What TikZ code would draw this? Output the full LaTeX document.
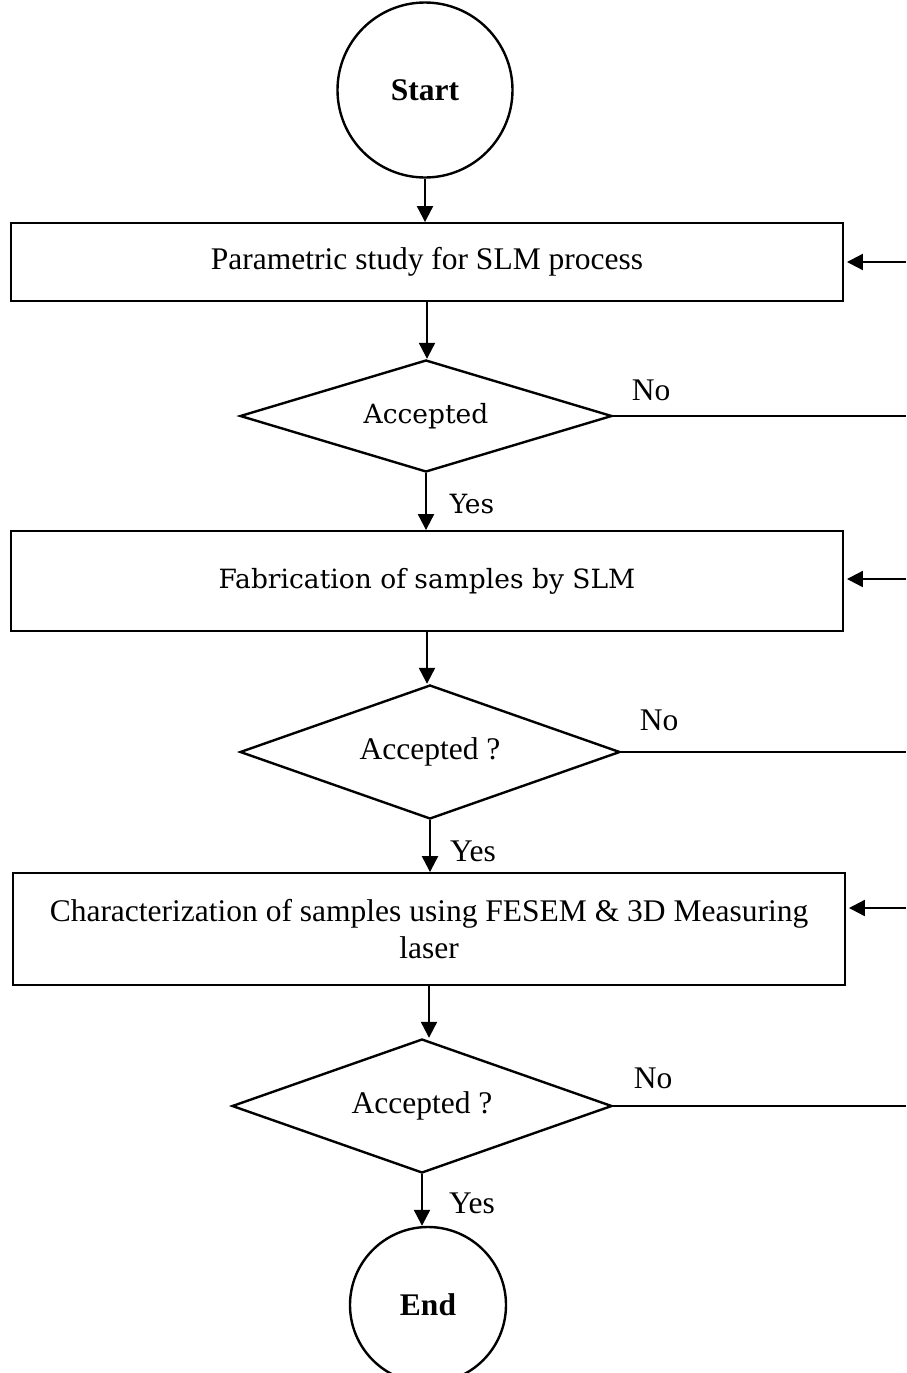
\documentclass[tikz,border=0pt]{standalone}
\usepackage{fontspec}
\setmainfont{Liberation Serif}
\newfontfamily\cambriafont{DejaVu Serif}
\usetikzlibrary{shapes.geometric,arrows.meta,positioning}
\tikzset{
  termnode/.style = {circle, draw=black, line width=2.4pt, inner sep=0pt,
    font=\fontsize{31.5}{37}\selectfont\bfseries},% start / end
  procbox/.style = {rectangle, draw=black, line width=1.9pt, inner sep=0pt,
    minimum width=832pt, align=center},% process step
  decide/.style = {diamond, draw=black, line width=2.4pt, inner sep=0pt,
    aspect=3.3},% decision
  flow/.style = {line width=2.2pt, -{Triangle[length=16pt,width=16pt]}},
  noline/.style = {line width=2.2pt},
  cmb/.style = {font=\cambriafont\fontsize{26.5}{31}\selectfont}
}

\begin{document}
\begin{tikzpicture}[x=1pt,y=-1pt,font=\fontsize{31.5}{37}\selectfont]
\useasboundingbox (0,0) rectangle (906,1373);
\clip (0,0) rectangle (906,1373);

\node [termnode, minimum size=175pt] (start) at (425,90) {Start};
\node [procbox, minimum height=78pt] (param) at (427,262)
  {Parametric study for SLM process};
\node [decide, cmb, minimum width=372pt, minimum height=112pt] (acc1) at (426,416)
  {\raisebox{-4pt}{Accepted}};
\node [procbox, cmb, minimum height=100pt] (fab) at (427,581)
  {Fabrication of samples by SLM};
\node [decide, minimum width=380pt, minimum height=134pt] (acc2) at (430,752)
  {Accepted ?};
\node [procbox, minimum height=112pt] (char) at (429,929)
  {Characterization of samples using FESEM \& 3D Measuring\\laser};
\node [decide, minimum width=380pt, minimum height=134pt] (acc3) at (422,1106)
  {Accepted ?};
\node [termnode, minimum size=156pt] (end) at (428,1305) {End};

% loop ends at the right edge
\coordinate (back1) at (906,262);
\coordinate (back2) at (906,579);
\coordinate (back3) at (906,908);
\coordinate (out1) at (906,416);
\coordinate (out2) at (906,752);
\coordinate (out3) at (906,1106);

\draw [flow] (start) -- (start |- param.north);
\draw [flow] (param) -- (param |- acc1.north);
\draw [flow] (acc1) -- (acc1 |- fab.north);
\draw [flow] (fab) -- (fab |- acc2.north);
\draw [flow] (acc2) -- (acc2 |- char.north);
\draw [flow] (char) -- (char |- acc3.north);
\draw [flow] (acc3) -- (acc3 |- end.north);

\node [cmb] (yes1) at ([xshift=46pt,yshift=-31pt]acc1.south) {Yes};
\node (yes2) at ([xshift=43pt,yshift=-31pt]acc2.south) {Yes};
\node (yes3) at ([xshift=50pt,yshift=-29pt]acc3.south) {Yes};

\draw [noline] (acc1.east) -- (out1);
\draw [noline] (acc2.east) -- (out2);
\draw [noline] (acc3.east) -- (out3);
\node (no1) at ([xshift=38pt,yshift=26pt]acc1.east) {No};
\node (no2) at ([xshift=38pt,yshift=32pt]acc2.east) {No};
\node (no3) at ([xshift=40pt,yshift=28pt]acc3.east) {No};

\draw [flow, shorten >=3pt] (back1) -- (param.east);
\draw [flow, shorten >=3pt] (back2) -- (back2 -| fab.east);
\draw [flow, shorten >=3pt] (back3) -- (back3 -| char.east);
\end{tikzpicture}
\end{document}
